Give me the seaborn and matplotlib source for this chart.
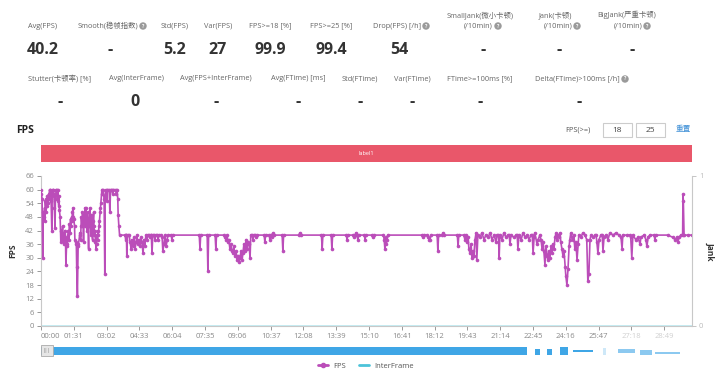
import matplotlib
matplotlib.use("Agg")
import matplotlib.pyplot as plt
from matplotlib.patches import Rectangle
from matplotlib.lines import Line2D
import seaborn as sns
import pandas as pd

# ---- summary numbers ----
row1_labels = ["Avg(FPS)", "Smooth(稳帧指数)", "Std(FPS)", "Var(FPS)", "FPS>=18 [%]",
               "FPS>=25 [%]", "Drop(FPS) [/h]", "SmallJank(微小卡顿)\n(/10min)",
               "Jank(卡顿)\n(/10min)", "BigJank(严重卡顿)\n(/10min)"]
row1_values = ["40.2", "-", "5.2", "27", "99.9", "99.4", "54", "-", "-", "-"]
row2_labels = ["Stutter(卡顿率) [%]", "Avg(InterFrame)", "Avg(FPS+InterFrame)", "Avg(FTime) [ms]",
               "Std(FTime)", "Var(FTime)", "FTime>=100ms [%]", "Delta(FTime)>100ms [/h]"]
row2_values = ["-", "0", "-", "-", "-", "-", "-", "-"]

# ---- FPS trace (seconds, fps) ----
t_sec = [0, 1, 3, 5, 6, 8, 10, 11, 12, 14, 15, 17, 18, 19, 21, 22, 24, 25, 26, 28, 30, 31, 32, 34, 36, 37, 39, 40, 42, 44,
         46, 47, 49, 50, 51, 53, 55, 56, 58, 60, 61, 62, 64, 65, 67, 68, 69, 71, 72, 73, 75, 76, 78, 79, 80, 82, 83, 85, 86, 87,
         89, 90, 91, 93, 94, 96, 98, 99, 101, 103, 104, 107, 108, 110, 111, 112, 114, 115, 117, 118, 119, 121, 122, 123, 125, 126, 128, 129, 130, 132,
         133, 135, 136, 137, 139, 140, 141, 143, 144, 146, 147, 148, 150, 151, 153, 154, 155, 157, 158, 159, 161, 162, 164, 165, 166, 168, 169, 172, 175, 177,
         178, 180, 183, 184, 189, 191, 193, 197, 199, 201, 208, 209, 211, 213, 214, 216, 218,
         233, 235, 236, 237, 238, 240, 245, 247, 250, 252, 255, 258, 261, 264, 266, 269, 272, 275, 277, 280, 283, 286, 288, 291, 294, 297, 300, 302, 304,
         306, 308, 310, 314, 316, 318, 323, 325, 327, 334, 336, 338, 341, 344, 347, 350, 352, 361, 363, 365, 439, 441, 443, 461, 463, 465, 483, 485, 487,
         508, 510, 513, 516, 519, 521, 524, 527, 530, 533, 535, 538, 541, 544, 546, 549, 552, 555, 558, 560, 563, 566, 569, 571, 574, 577, 580, 582,
         586, 588, 590, 594, 596, 598,
         619, 621, 623, 633, 635, 637, 639, 641, 644, 646, 669, 671, 673, 716, 718, 720, 778, 780, 782, 805, 807, 809, 847, 849, 851, 866, 868, 870,
         872, 874, 876, 877, 879, 881, 897, 899, 901, 919, 921, 923, 950, 952, 954, 956, 958, 960, 962,
         1058, 1060, 1062, 1072, 1074, 1077, 1079, 1082, 1099, 1101, 1103, 1113, 1115, 1117, 1155, 1157, 1159, 1173, 1176, 1179, 1182, 1185, 1187,
         1190, 1193, 1196, 1198, 1201, 1204, 1207, 1209, 1212, 1218, 1223, 1229, 1234, 1240, 1246, 1251, 1257, 1262, 1265, 1269, 1271, 1273, 1279,
         1284, 1290, 1295, 1299, 1301, 1304, 1312, 1318, 1321, 1323, 1326, 1332, 1337, 1343, 1348, 1354, 1359, 1363, 1365, 1368, 1370, 1376, 1379, 1384,
         1387, 1390, 1393, 1395, 1398, 1401, 1404, 1406, 1409, 1412, 1415, 1418, 1420, 1423, 1426, 1429, 1431, 1434, 1437, 1440, 1442, 1445, 1448,
         1451, 1454, 1456, 1459, 1462, 1465, 1467, 1470, 1473, 1476, 1478, 1481, 1484, 1487, 1490, 1492, 1498, 1503, 1509, 1514, 1517, 1520, 1523,
         1526, 1531, 1537, 1540, 1542, 1545, 1548, 1553, 1557, 1559, 1562, 1567, 1573, 1578, 1587, 1595, 1603, 1609, 1612, 1614, 1625, 1634, 1636,
         1639, 1642, 1650, 1656, 1662, 1664, 1673, 1678, 1681, 1684, 1689, 1701, 1703, 1705, 1739, 1753, 1759, 1764, 1767, 1770, 1775, 1780, 1781,
         1782, 1784, 1795, 1806]
fps = [60, 58, 56, 30, 50, 48, 52, 46, 55, 50, 56, 53, 57, 54, 58, 56, 60, 59, 60, 55, 42, 57, 60, 60, 58, 52, 43, 56, 60, 60,
       55, 60, 53, 57, 51, 48, 37, 42, 40, 44, 38, 41, 36, 39, 42, 38, 27, 36, 39, 35, 40, 42, 38, 45, 41, 47, 44, 48, 46, 50,
       52, 48, 47, 44, 38, 37, 36, 26, 13, 35, 36, 40, 41, 38, 44, 48, 44, 50, 46, 37, 49, 44, 52, 48, 52, 46, 42, 50, 46, 34,
       44, 48, 52, 46, 40, 49, 44, 38, 46, 50, 44, 40, 42, 37, 34, 36, 40, 38, 42, 40, 44, 46, 50, 52, 54, 58, 60, 60, 56, 23,
       57, 60, 55, 60, 60, 50, 60, 60, 58, 60, 60, 58, 60, 56, 49, 44, 40,
       40, 38, 40, 40, 31, 40, 40, 37, 34, 38, 35, 39, 34, 37, 40, 36, 38, 35, 39, 37, 32, 38, 35, 40, 38, 40, 40, 39, 40,
       40, 32, 40, 40, 38, 40, 40, 38, 40, 40, 39, 33, 36, 40, 35, 38, 40, 40, 38, 40, 40, 34, 40, 40, 24, 40, 40, 34, 40,
       40, 39, 38, 40, 37, 38, 34, 36, 33, 32, 35, 31, 33, 29, 31, 28, 30, 33, 29, 32, 36, 33, 38, 34, 37, 36, 30, 40,
       40, 38, 40, 40, 39, 40,
       40, 37, 40, 40, 38, 40, 40, 39, 41, 40, 40, 33, 40, 40, 41, 40, 40, 34, 40, 40, 34, 40, 40, 38, 40, 40, 39, 40,
       40, 41, 40, 40, 38, 40, 40, 38, 40, 40, 39, 40, 40, 38, 34, 39, 36, 38, 40,
       40, 39, 40, 40, 39, 38, 38, 40, 40, 33, 40, 40, 41, 40, 40, 35, 40, 40, 38, 40, 37, 39, 34,
       32, 36, 30, 33, 31, 38, 41, 29, 40, 39, 41, 38, 40, 39, 41, 38, 40, 37, 40, 40, 30, 40, 38,
       41, 39, 40, 40, 36, 40, 39, 40, 40, 34, 40, 38, 41, 39, 40, 38, 40, 40, 32, 39, 41, 36, 38, 40,
       38, 34, 37, 33, 27, 35, 31, 29, 33, 30, 35, 32, 36, 34, 39, 41, 38, 40, 39, 41, 37, 34, 31,
       33, 26, 22, 18, 25, 35, 38, 41, 39, 38, 40, 34, 37, 29, 36, 40, 39, 41, 40, 38, 20, 23, 38,
       40, 39, 40, 40, 37, 32, 38, 40, 40, 33, 39, 40, 38, 41, 40, 41, 40, 39, 34, 40, 40, 40, 39,
       30, 40, 38, 39, 36, 39, 40, 38, 35, 39, 40, 40, 38, 40, 40, 39, 38, 39, 37, 39, 40, 40, 58,
       55, 40, 40, 40]
inter_sec = [0, 1806]
inter_val = [0, 0]

y_ticks = list(range(0, 67, 6))
x_ticks = [91 * k for k in range(20)]
x_labels = ["%02d:%02d" % (s // 60, s % 60) for s in x_ticks]

W, H = 720, 378
fps_color = "#BB4DB9"
inter_color = "#4CC3D9"
grey = "#888888"

sns.set_style("white")
plt.rcParams["font.family"] = ["Open Sans", "Noto Sans CJK SC", "DejaVu Sans"]


def fx(x):
    return x / W


def fy(y):
    return 1 - y / H


def help_icon(x, y):
    fig.text(fx(x), fy(y), "?", ha="center", va="center", fontsize=3.5, color="white",
             fontweight="bold",
             bbox=dict(boxstyle="circle,pad=0.25", fc="#9a9a9a", ec="none"))


fig = plt.figure(figsize=(7.2, 3.78), dpi=100)

# ---- summary block ----
lab_kw = dict(va="center", fontsize=5.3, color="#666666")
val_kw = dict(ha="center", va="center", fontsize=11.5, fontweight="bold", color="#333333")

row1_x = [43, 105, 175, 218, 270, 331, 394, 480, 555, 627]
row1_vx = [43, 110, 175, 218, 270, 331, 399, 483, 559, 632]
row1_icon = [None, 143, None, None, None, None, 426, 498, 577, 647]
for lab, val, lx, vx, ic in zip(row1_labels, row1_values, row1_x, row1_vx, row1_icon):
    lines = lab.split("\n")
    if len(lines) == 2:
        fig.text(fx(lx), fy(15), lines[0], ha="center", **lab_kw)
        fig.text(fx(ic - 5), fy(26), lines[1], ha="right", **lab_kw)
    elif ic is not None:
        fig.text(fx(ic - 5), fy(26), lab, ha="right", **lab_kw)
    else:
        fig.text(fx(lx), fy(26), lab, ha="center", **lab_kw)
    if ic is not None:
        help_icon(ic, 26)
    fig.text(fx(vx), fy(50), val, **val_kw)

row2_x = [60, 136, 216, 298, 360, 412, 480, 574]
row2_vx = [60, 135, 216, 298, 360, 412, 480, 579]
row2_icon = [None, None, None, None, None, None, None, 625]
for lab, val, lx, vx, ic in zip(row2_labels, row2_values, row2_x, row2_vx, row2_icon):
    if ic is not None:
        fig.text(fx(ic - 5), fy(79), lab, ha="right", **lab_kw)
        help_icon(ic, 79)
    else:
        fig.text(fx(lx), fy(79), lab, ha="center", **lab_kw)
    fig.text(fx(vx), fy(101.5), val, **val_kw)

# ---- chart header ----
fig.text(fx(16), fy(130.5), "FPS", ha="left", va="center", fontsize=7.5, fontweight="bold",
         color="#222222")
fig.text(fx(590), fy(130), "FPS(>=)", ha="right", va="center", fontsize=5.3, color="#555555")
for bx, txt in [(603, "18"), (636, "25")]:
    fig.add_artist(Rectangle((fx(bx), fy(137)), 29 / W, 14 / H, transform=fig.transFigure,
                             fc="white", ec="#cccccc", lw=0.8))
    fig.text(fx(bx + 14.5), fy(130), txt, ha="center", va="center", fontsize=6, color="#444444")
fig.text(fx(683), fy(129), "重置", ha="center", va="center", fontsize=5.5, color="#3d8fd6")

fig.add_artist(Rectangle((fx(41), fy(162)), (692 - 41) / W, 17 / H, transform=fig.transFigure,
                         fc="#E9576A", ec="none"))
fig.text(fx(366), fy(153.5), "label1", ha="center", va="center", fontsize=4, color="white")

# ---- main plot ----
ax = fig.add_axes([fx(41), fy(326), (692 - 41) / W, (326 - 176) / H])
df = pd.DataFrame({"sec": t_sec, "fps": fps})
df_int = pd.DataFrame({"sec": inter_sec, "val": inter_val})
sns.lineplot(data=df_int, x="sec", y="val", ax=ax, color=inter_color, lw=2, alpha=0.35,
             estimator=None, zorder=1)
sns.lineplot(data=df, x="sec", y="fps", ax=ax, color=fps_color, lw=1.2, estimator=None,
             marker="o", markersize=2.6, markeredgewidth=0, zorder=3)

ax.set_xlim(0, 1806)
ax.set_ylim(0, 66)
ax.set_yticks(y_ticks)
ax.set_xticks(x_ticks)
ax.set_xticklabels(x_labels)
ax.tick_params(axis="both", labelsize=5.5, colors=grey, length=3, width=0.6, pad=2,
               bottom=True, left=True)
for i, lbl in enumerate(ax.get_xticklabels()):
    if i == 0:
        lbl.set_ha("left")
    if i >= 18:
        lbl.set_color("#d0d0d0")
ax.set_xlabel("")
ax.set_ylabel("FPS", fontsize=6, fontweight="bold", color="#333333", labelpad=6)
for side in ["top", "right"]:
    ax.spines[side].set_visible(False)
for side in ["left", "bottom"]:
    ax.spines[side].set_color("#c8c8c8")
    ax.spines[side].set_linewidth(0.8)

ax2 = ax.twinx()
ax2.set_ylim(0, 1)
ax2.set_yticks([0, 1])
ax2.tick_params(axis="y", labelsize=5.5, colors="#bbbbbb", length=3, width=0.6, pad=2)
for side in ["top", "left", "bottom"]:
    ax2.spines[side].set_visible(False)
ax2.spines["right"].set_color("#c8c8c8")
ax2.spines["right"].set_linewidth(0.8)
ax2.set_ylabel("Jank", fontsize=6, fontweight="bold", color="#333333", rotation=270,
               labelpad=8)

# ---- zoom slider ----
fig.add_artist(Rectangle((fx(41), fy(355)), (527 - 41) / W, 8 / H, transform=fig.transFigure,
                         fc="#3FA6E6", ec="none"))
for x0, x1, y0, y1, a in [(535, 540, 349, 355, 1), (547, 552, 349, 355, 1), (560, 568, 347, 355, 1),
                          (573, 593, 350, 352, 1), (603, 606, 348, 355, 0.25),
                          (618, 635, 349, 353, 0.6), (640, 652, 350, 355, 0.6), (655, 680, 352, 354, 0.6)]:
    fig.add_artist(Rectangle((fx(x0), fy(y1)), (x1 - x0) / W, (y1 - y0) / H,
                             transform=fig.transFigure, fc="#3FA6E6", ec="none", alpha=a))
fig.add_artist(Rectangle((fx(41), fy(356)), 12 / W, 11 / H, transform=fig.transFigure,
                         fc="#e6e6e6", ec="#aaaaaa", lw=0.6))
fig.text(fx(47), fy(350.5), "|||", ha="center", va="center", fontsize=3.5, color="#777777")

# ---- legend ----
handles = [Line2D([], [], color=fps_color, lw=2, marker="o", markersize=3),
           Line2D([], [], color=inter_color, lw=2)]
fig.legend(handles, ["FPS", "InterFrame"], loc="center", bbox_to_anchor=(fx(366), fy(366)),
           ncol=2, frameon=False, fontsize=5.5, handlelength=1.3, handletextpad=0.7,
           columnspacing=1.6, labelcolor="#555555")

fig.savefig("out.png", dpi=100, facecolor="white")
